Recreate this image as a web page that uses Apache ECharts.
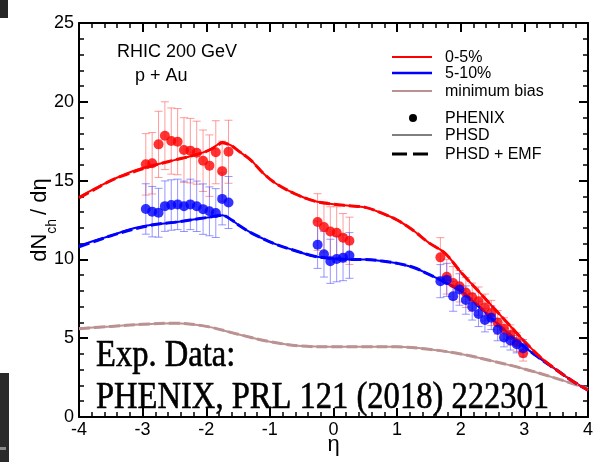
<!DOCTYPE html>
<html>
<head>
<meta charset="utf-8">
<style>
  html, body { margin: 0; padding: 0; background: #fff; }
  #chart { width: 606px; height: 462px; }
</style>
<script src="https://cdn.jsdelivr.net/npm/echarts@6/dist/echarts.min.js"></script>
</head>
<body>
<div id="chart"></div>
<script>
// Pseudorapidity grid of the PHSD model curves
const etaModel = [-4, -3.75, -3.5, -3.25, -3, -2.75, -2.5, -2.25, -2, -1.85, -1.75, -1.6, -1.5, -1.3, -1.1, -0.9, -0.6, -0.3, 0, 0.25, 0.5, 0.75, 1, 1.25, 1.5, 1.75, 2, 2.25, 2.5, 2.75, 3, 3.25, 3.5, 3.75, 4];

// PHSD, 0-5% centrality
const phsdCentral = [13.95, 14.5, 15.0, 15.45, 15.8, 16.05, 16.3, 16.55, 16.85, 17.2, 17.45, 17.2, 16.9, 16.3, 15.45, 14.8, 14.15, 13.7, 13.5, 13.4, 13.3, 12.95, 12.5, 11.85, 11.05, 10.4, 9.2, 8.1, 7.0, 5.9, 4.8, 3.8, 3.0, 2.3, 1.7];
// PHSD + EMF, 0-5% centrality
const emfCentral = [13.9, 14.45, 15.0, 15.4, 15.75, 16.05, 16.3, 16.55, 16.85, 17.15, 17.4, 17.2, 16.9, 16.3, 15.45, 14.8, 14.15, 13.7, 13.5, 13.4, 13.3, 12.95, 12.5, 11.85, 11.05, 10.4, 9.2, 8.1, 7.0, 5.9, 4.8, 3.8, 3.0, 2.3, 1.7];

// PHSD, 5-10% centrality
const phsdPeripheral = [10.85, 11.2, 11.5, 11.85, 12.1, 12.25, 12.35, 12.5, 12.65, 12.75, 12.8, 12.5, 12.2, 11.7, 11.3, 10.95, 10.55, 10.2, 10.05, 10.0, 10.0, 9.9, 9.75, 9.5, 9.05, 8.55, 8.0, 7.15, 6.2, 5.3, 4.45, 3.7, 3.0, 2.3, 1.7];
// PHSD + EMF, 5-10% centrality
const emfPeripheral = [10.8, 11.15, 11.5, 11.8, 12.05, 12.25, 12.35, 12.5, 12.65, 12.75, 12.8, 12.5, 12.2, 11.7, 11.3, 10.95, 10.55, 10.2, 10.05, 10.0, 10.0, 9.9, 9.75, 9.5, 9.05, 8.55, 8.0, 7.15, 6.2, 5.3, 4.45, 3.7, 3.0, 2.3, 1.7];

// Minimum bias (PHSD and PHSD + EMF)
const etaMinBias = [-4, -3.5, -3, -2.5, -2, -1.5, -1, -0.5, 0, 0.5, 1, 1.5, 2, 2.5, 3, 3.5, 4];
const phsdMinBias = [5.63, 5.75, 5.88, 5.95, 5.75, 5.25, 4.78, 4.5, 4.45, 4.45, 4.45, 4.3, 4.0, 3.55, 3.05, 2.45, 1.8];
const emfMinBias = [5.6, 5.75, 5.88, 5.95, 5.75, 5.25, 4.78, 4.5, 4.45, 4.45, 4.45, 4.3, 4.0, 3.55, 3.05, 2.45, 1.8];

// PHENIX measurements
const etaData = [-2.95, -2.85, -2.75, -2.65, -2.55, -2.45, -2.35, -2.25, -2.15, -2.05, -1.95, -1.85, -1.75, -1.65,
                 -0.25, -0.15, -0.05, 0.05, 0.15, 0.25,
                 1.68, 1.78, 1.88, 1.98, 2.08, 2.18, 2.28, 2.38, 2.48, 2.58, 2.68, 2.78, 2.88, 2.98];
const phenixCentral = [16.03, 16.1, 17.3, 17.85, 17.51, 17.47, 16.94, 16.9, 16.77, 16.26, 15.95, 16.8, 15.6, 16.83,
                       12.37, 12.06, 11.77, 11.69, 11.37, 11.18,
                       10.13, 8.9, 8.5, 8.3, 7.9, 7.6, 7.35, 6.95, 6.6, 6.0, 5.6, 5.2, 4.75, 4.05];
const phenixCentralErr = [1.95, 1.95, 2.1, 2.15, 2.1, 2.1, 2.05, 2.05, 2.0, 1.95, 1.95, 2.0, 1.9, 2.0,
                          1.8, 1.6, 1.57, 1.65, 1.54, 1.5,
                          1.25, 1.1, 1.05, 1.0, 0.95, 0.9, 0.9, 0.85, 0.8, 0.75, 0.7, 0.65, 0.6, 0.5];
const phenixPeripheral = [13.2, 13.03, 12.96, 13.38, 13.45, 13.49, 13.37, 13.49, 13.37, 13.19, 13.05, 12.94, 13.84, 13.61,
                          10.93, 10.33, 9.88, 10.03, 10.1, 10.25,
                          8.62, 8.7, 7.66, 8.09, 7.42, 7.0, 6.54, 6.15, 6.3, 5.54, 5.05, 4.85, 4.62, 4.36];
const phenixPeripheralErr = [1.6, 1.6, 1.55, 1.6, 1.6, 1.6, 1.6, 1.6, 1.6, 1.6, 1.55, 1.55, 1.65, 1.65,
                             1.5, 1.45, 1.4, 1.45, 1.45, 1.45,
                             1.05, 1.05, 0.95, 1.0, 0.9, 0.85, 0.8, 0.75, 0.75, 0.7, 0.6, 0.6, 0.55, 0.55];

const RED = '#ff0000';
const BLUE = '#0000ff';
const MINB = '#bc9191';
const SANS = '"Liberation Sans", Arial, sans-serif';
const SERIF = '"Liberation Serif", "DejaVu Serif", serif';

function pairs(xs, ys) { return xs.map((x, i) => [x, ys[i]]); }
function bars(xs, ys, es) { return xs.map((x, i) => [x, ys[i] - es[i], ys[i] + es[i]]); }

function errorBars(color) {
  return function (params, api) {
    const x = api.value(0);
    const lo = api.coord([x, api.value(1)]);
    const hi = api.coord([x, api.value(2)]);
    const hw = 4;
    const st = { stroke: color, lineWidth: 1 };
    return {
      type: 'group',
      children: [
        { type: 'line', shape: { x1: lo[0], y1: lo[1], x2: hi[0], y2: hi[1] }, style: st },
        { type: 'line', shape: { x1: lo[0] - hw, y1: lo[1], x2: lo[0] + hw, y2: lo[1] }, style: st },
        { type: 'line', shape: { x1: hi[0] - hw, y1: hi[1], x2: hi[0] + hw, y2: hi[1] }, style: st }
      ]
    };
  };
}

function modelLine(xs, ys, color, dashed) {
  return {
    type: 'line',
    data: pairs(xs, ys),
    showSymbol: false,
    smooth: 0.35,
    z: dashed ? 4 : 3,
    lineStyle: dashed
      ? { color: color, width: 3, type: [11, 4] }
      : { color: color, width: 2 },
    silent: true
  };
}

function axisStyle() {
  return {
    axisLine: { onZero: false, lineStyle: { color: '#000', width: 2 } },
    axisTick: { inside: true, length: 9, lineStyle: { color: '#000', width: 2 } },
    minorTick: { show: true, splitNumber: 5, length: 5, lineStyle: { color: '#000', width: 1.5 } },
    splitLine: { show: false },
    minorSplitLine: { show: false }
  };
}

const chart = echarts.init(document.getElementById('chart'), null, { renderer: 'canvas' });

const legendX = 392, legendText = 445;
function legendLine(y, color, width, dash) {
  return { type: 'line', shape: { x1: legendX, y1: y, x2: legendX + 40, y2: y },
           style: { stroke: color, lineWidth: width, lineDash: dash || null }, z: 10 };
}
function legendLabel(y, text) {
  return { type: 'text', x: legendText, y: y,
           style: { text: text, font: '16px ' + SANS, fill: '#000', textVerticalAlign: 'middle' }, z: 10 };
}
function refLine(y, text) {
  return { type: 'text', x: 96, y: y, scaleX: 0.88,
           style: { text: text, font: '37px ' + SERIF, fill: '#000', stroke: '#000', lineWidth: 0.6,
                    textVerticalAlign: 'middle' }, z: 10 };
}

chart.setOption({
  animation: false,
  backgroundColor: '#fff',
  grid: { left: 79, right: 18, top: 23, bottom: 45, containLabel: false, outerBoundsMode: 'none' },
  xAxis: [
    Object.assign({
      type: 'value', min: -4, max: 4, interval: 1, position: 'bottom',
      axisLabel: { color: '#000', fontSize: 18, fontFamily: SANS, margin: 4 },
      name: 'η', nameLocation: 'middle', nameGap: 17, nameMoveOverlap: false,
      nameTextStyle: { color: '#000', fontSize: 22, fontFamily: SANS }
    }, axisStyle()),
    Object.assign({
      type: 'value', min: -4, max: 4, interval: 1, position: 'top',
      axisLabel: { show: false }
    }, axisStyle())
  ],
  yAxis: [
    Object.assign({
      type: 'value', min: 0, max: 25, interval: 5, position: 'left',
      axisLabel: { color: '#000', fontSize: 18, fontFamily: SANS, margin: 5 },
      name: '{a|dN}{s|ch}{a|/ dη}', nameLocation: 'middle', nameGap: 26, nameMoveOverlap: false,
      nameTextStyle: {
        color: '#000',
        rich: {
          a: { fontSize: 22, fontFamily: SANS, color: '#000', lineHeight: 26 },
          s: { fontSize: 14, fontFamily: SANS, color: '#000', verticalAlign: 'bottom', padding: [0, 4, -6, 0] }
        }
      }
    }, axisStyle()),
    Object.assign({
      type: 'value', min: 0, max: 25, interval: 5, position: 'right',
      axisLabel: { show: false }
    }, axisStyle())
  ],
  series: [
    // model curves
    modelLine(etaMinBias, phsdMinBias, MINB, false),
    modelLine(etaMinBias, emfMinBias, MINB, true),
    modelLine(etaModel, phsdPeripheral, BLUE, false),
    modelLine(etaModel, emfPeripheral, BLUE, true),
    modelLine(etaModel, phsdCentral, RED, false),
    modelLine(etaModel, emfCentral, RED, true),
    // PHENIX error bars
    {
      type: 'custom', renderItem: errorBars('rgba(255,90,90,0.6)'),
      data: bars(etaData, phenixCentral, phenixCentralErr),
      encode: { x: 0, y: [1, 2] }, z: 2, silent: true
    },
    {
      type: 'custom', renderItem: errorBars('rgba(80,80,255,0.6)'),
      data: bars(etaData, phenixPeripheral, phenixPeripheralErr),
      encode: { x: 0, y: [1, 2] }, z: 2, silent: true
    },
    // PHENIX points
    {
      type: 'scatter', data: pairs(etaData, phenixCentral), symbol: 'circle', symbolSize: 10,
      itemStyle: { color: RED }, z: 5, silent: true
    },
    {
      type: 'scatter', data: pairs(etaData, phenixPeripheral), symbol: 'circle', symbolSize: 10,
      itemStyle: { color: BLUE }, z: 6, silent: true
    }
  ],
  graphic: [
    { type: 'text', x: 117, y: 52,
      style: { text: 'RHIC 200 GeV', font: '18px ' + SANS, fill: '#000', textVerticalAlign: 'middle' }, z: 10 },
    { type: 'text', x: 135, y: 76,
      style: { text: 'p + Au', font: '18px ' + SANS, fill: '#000', textVerticalAlign: 'middle' }, z: 10 },

    legendLine(57, RED, 2),
    legendLabel(58, '0-5%'),
    legendLine(73, BLUE, 2.5),
    legendLabel(74, '5-10%'),
    legendLine(91, MINB, 2),
    legendLabel(92, 'minimum bias'),
    { type: 'circle', shape: { cx: 413, cy: 118, r: 4 }, style: { fill: '#000' }, z: 10 },
    legendLabel(119, 'PHENIX'),
    legendLine(135, '#000', 1),
    legendLabel(136, 'PHSD'),
    legendLine(154, '#000', 3, [15, 6]),
    legendLabel(155, 'PHSD + EMF'),

    refLine(356, 'Exp. Data:'),
    refLine(398, 'PHENIX, PRL 121 (2018) 222301'),

    // dark strips along the left edge
    { type: 'rect', shape: { x: 0, y: 0, width: 8, height: 18 }, style: { fill: '#262626' }, z: 10 },
    { type: 'rect', shape: { x: 0, y: 373, width: 9, height: 89 }, style: { fill: '#2a2a2a' }, z: 10 },
    { type: 'rect', shape: { x: 0, y: 447, width: 6, height: 3 }, style: { fill: '#8a8a8a' }, z: 11 }
  ]
});
</script>
</body>
</html>
